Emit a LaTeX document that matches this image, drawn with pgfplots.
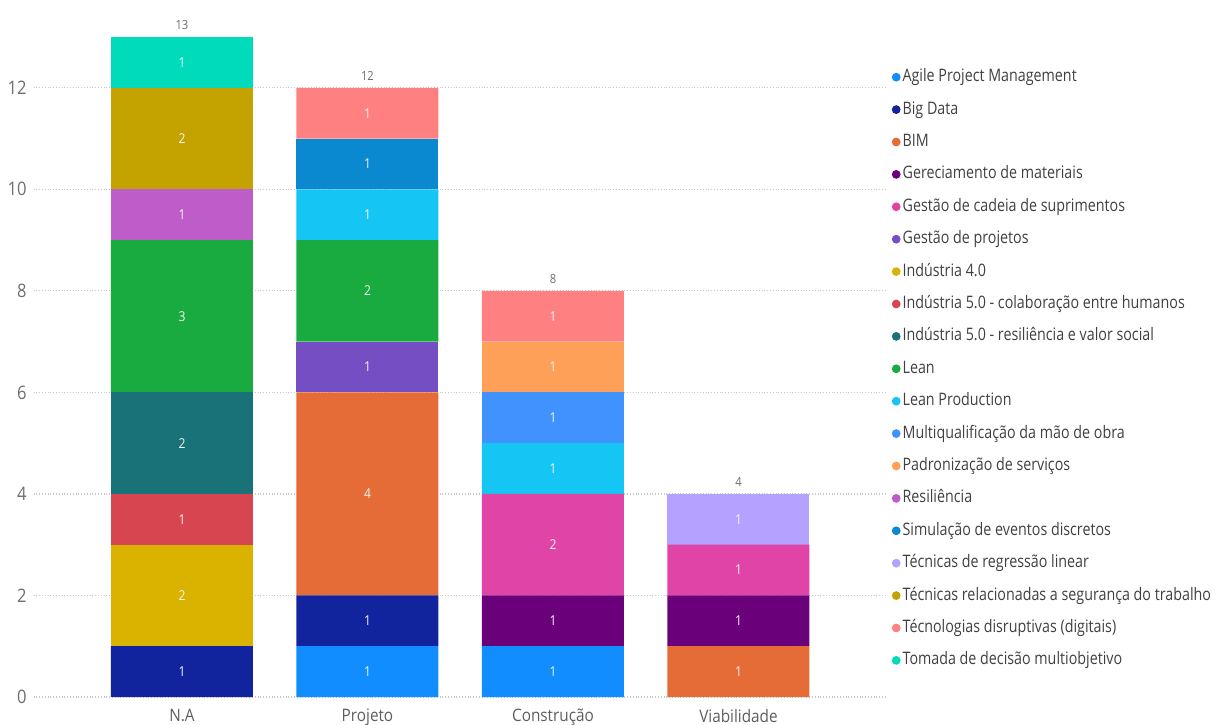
\documentclass[border=0pt]{standalone}
\usepackage{fontspec}
\setmainfont{Open Sans}[FakeStretch=0.89]
\newfontfamily\legfont{Open Sans}[FakeStretch=0.83]
\usepackage{pgfplots}
\usepackage{pgfplotstable}
\pgfplotsset{compat=1.18}
\pgfkeys{/pgf/number format/assume math mode=true}
\definecolor{c1}{HTML}{118DFF}
\definecolor{c2}{HTML}{12239E}
\definecolor{c3}{HTML}{E66C37}
\definecolor{c4}{HTML}{6B007B}
\definecolor{c5}{HTML}{E044A7}
\definecolor{c6}{HTML}{744EC2}
\definecolor{c7}{HTML}{D9B300}
\definecolor{c8}{HTML}{D64550}
\definecolor{c9}{HTML}{197278}
\definecolor{c10}{HTML}{1AAB40}
\definecolor{c11}{HTML}{15C6F4}
\definecolor{c12}{HTML}{4092FF}
\definecolor{c13}{HTML}{FFA058}
\definecolor{c14}{HTML}{BE5DC9}
\definecolor{c15}{HTML}{0B89D0}
\definecolor{c16}{HTML}{B5A1FF}
\definecolor{c17}{HTML}{C4A200}
\definecolor{c18}{HTML}{FF8080}
\definecolor{c19}{HTML}{00DBBC}
\definecolor{gridc}{HTML}{C8C8C8}
\definecolor{tickc}{HTML}{6E6E6E}
\definecolor{legc}{HTML}{404040}
\definecolor{inlab}{HTML}{F4F4F4}

\pgfplotstableread{
x agile bigdata bim ger cadeia proj ifour ifivec ifiver lean leanp multi padr resil sim regr seg tec tom total
0 0 1 0 0 0 0 2 1 2 3 0 0 0 1 0 0 2 0 1 13
1 1 1 4 0 0 1 0 0 0 2 1 0 0 0 1 0 0 1 0 12
2 1 0 0 1 2 0 0 0 0 0 1 1 1 0 0 0 0 1 0 8
3 0 0 1 1 1 0 0 0 0 0 0 0 0 0 0 1 0 0 0 4
}\data

\pgfplotsset{frame/.style={
  at={(16.8pt,13.5pt)}, anchor=south west,
  scale only axis,
  width=425.7pt, height=330pt,
  xmin=-0.8, xmax=3.79,
  ymin=0, ymax=13,
  /pgf/number format/assume math mode=true,
  clip=false}}

\begin{document}
\begin{tikzpicture}
\useasboundingbox (0,0) rectangle (609pt,362pt);
\begin{axis}[
  frame,
  ybar stacked,
  bar width=71pt,
  xtick={0,1,2,3},
  xticklabels={N.A,Projeto,Construção,Viabilidade},
  ytick={0,2,4,6,8,10,12},
  axis line style={draw=none},
  major tick length=0pt,
  ymajorgrids,
  grid style={densely dotted, gridc, line width=0.6pt},
  yticklabel style={font=\fontsize{9.3}{11}\selectfont, text=tickc, inner sep=0pt, xshift=-3.3pt},
  xticklabel style={font=\fontsize{8.6}{10}\selectfont, text=tickc!85!black, inner sep=0pt, yshift=-5.8pt},
  point meta=explicit,
  nodes near coords={\pgfmathfloatifflags{\pgfplotspointmeta}{0}{}{\fontsize{6.8}{7}\selectfont\color{inlab}\pgfmathprintnumber{\pgfplotspointmeta}}},
  every node near coord/.append style={anchor=center},
  legend cell align=left,
  legend style={at={(1.008,0.952)}, anchor=north west, draw=none, fill=none,
    inner sep=0pt, outer sep=0pt, row sep=7.7pt,
    font=\legfont\fontsize{8.6}{10}\selectfont, text=legc,
    nodes={inner sep=0pt, text height=6.5pt, text depth=2pt},
    /tikz/every odd column/.style={column sep=1pt}},
  every axis plot/.append style={draw=none, legend image code/.code={\fill[##1] (2.2pt,0pt) circle (2.2pt);}},
]
\addplot[fill=c1] table[x=x, y=agile, meta=agile] {\data};
\addplot[fill=c2] table[x=x, y=bigdata, meta=bigdata] {\data};
\addplot[fill=c3] table[x=x, y=bim, meta=bim] {\data};
\addplot[fill=c4] table[x=x, y=ger, meta=ger] {\data};
\addplot[fill=c5] table[x=x, y=cadeia, meta=cadeia] {\data};
\addplot[fill=c6] table[x=x, y=proj, meta=proj] {\data};
\addplot[fill=c7] table[x=x, y=ifour, meta=ifour] {\data};
\addplot[fill=c8] table[x=x, y=ifivec, meta=ifivec] {\data};
\addplot[fill=c9] table[x=x, y=ifiver, meta=ifiver] {\data};
\addplot[fill=c10] table[x=x, y=lean, meta=lean] {\data};
\addplot[fill=c11] table[x=x, y=leanp, meta=leanp] {\data};
\addplot[fill=c12] table[x=x, y=multi, meta=multi] {\data};
\addplot[fill=c13] table[x=x, y=padr, meta=padr] {\data};
\addplot[fill=c14] table[x=x, y=resil, meta=resil] {\data};
\addplot[fill=c15] table[x=x, y=sim, meta=sim] {\data};
\addplot[fill=c16] table[x=x, y=regr, meta=regr] {\data};
\addplot[fill=c17] table[x=x, y=seg, meta=seg] {\data};
\addplot[fill=c18] table[x=x, y=tec, meta=tec] {\data};
\addplot[fill=c19] table[x=x, y=tom, meta=tom] {\data};
\legend{Agile Project Management, Big Data, BIM, Gereciamento de materiais, Gestão de cadeia de suprimentos, Gestão de projetos, Indústria 4.0, Indústria 5.0 - colaboração entre humanos, Indústria 5.0 - resiliência e valor social, Lean, Lean Production, Multiqualificação da mão de obra, Padronização de serviços, Resiliência, Simulação de eventos discretos, Técnicas de regressão linear, Técnicas relacionadas a segurança do trabalho, Técnologias disruptivas (digitais), Tomada de decisão multiobjetivo}
\end{axis}
\begin{axis}[frame, hide axis]
\addplot[only marks, mark=*, mark size=0pt, draw=none, fill=none,
  point meta=explicit,
  nodes near coords={\fontsize{6.3}{7}\selectfont\color{tickc}\pgfmathprintnumber{\pgfplotspointmeta}},
  every node near coord/.style={anchor=center, yshift=5.8pt}]
  table[x=x, y=total, meta=total] {\data};
\end{axis}
\end{tikzpicture}
\end{document}
